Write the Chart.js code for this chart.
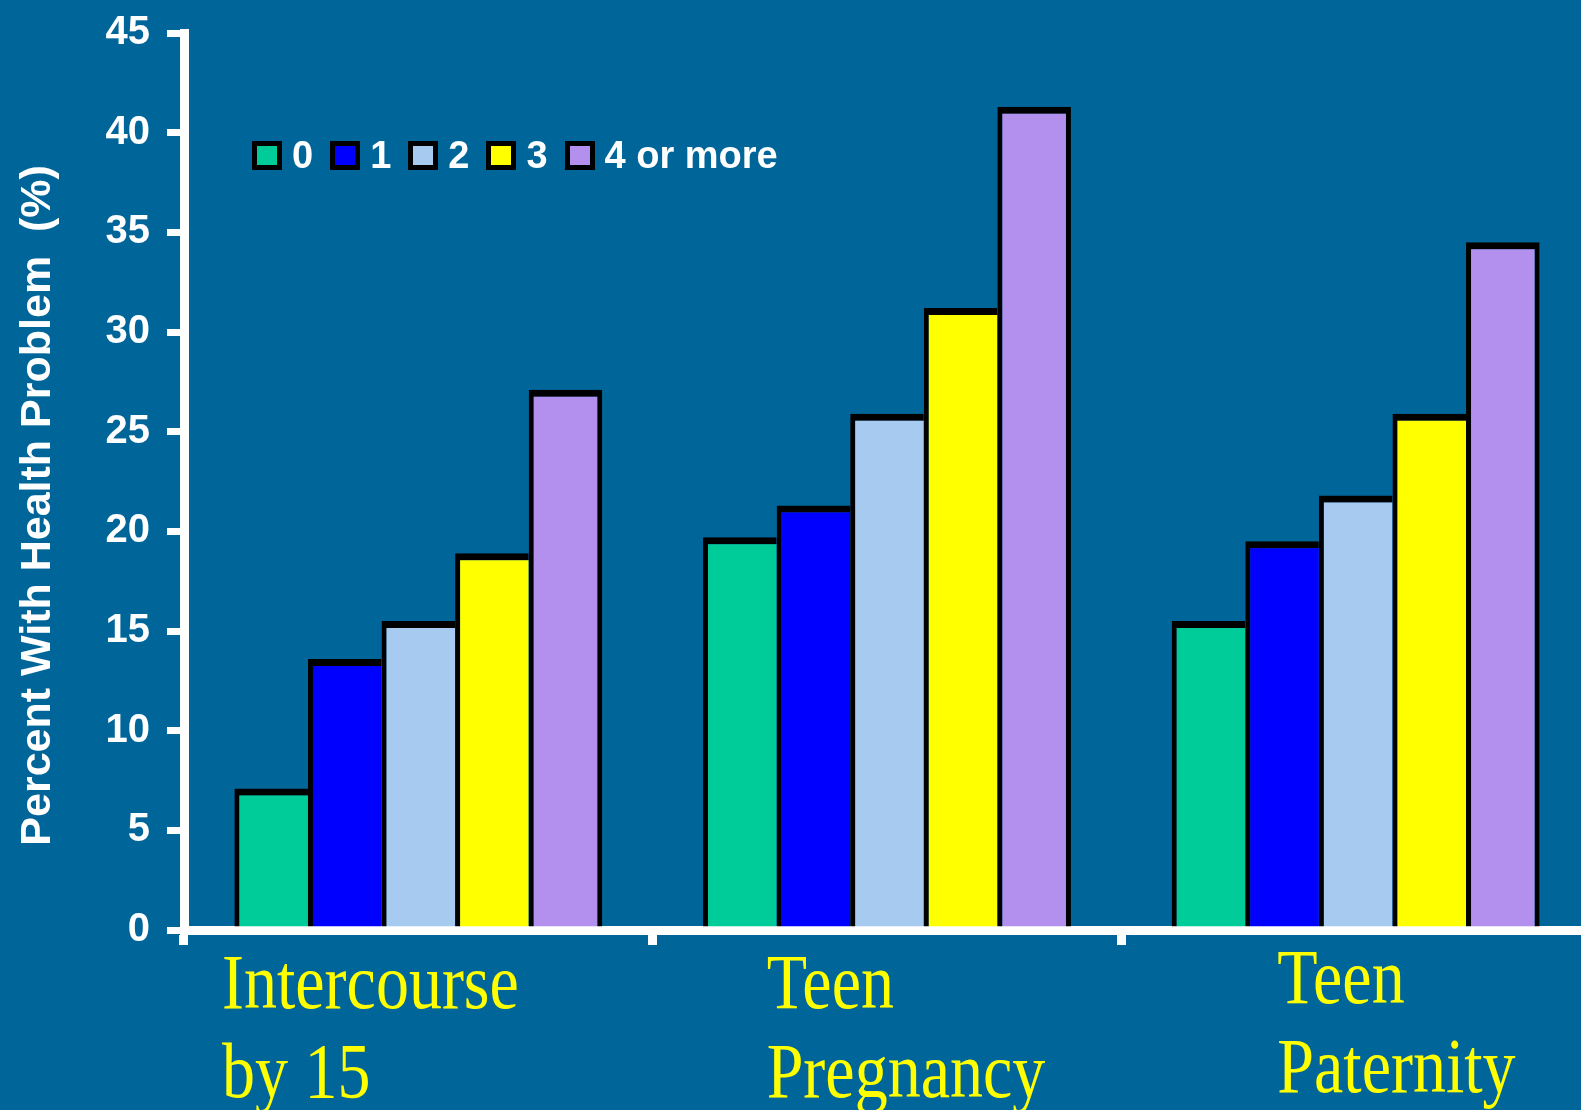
<!DOCTYPE html>
<html>
<head>
<meta charset="utf-8">
<script src="https://cdn.jsdelivr.net/npm/chart.js@4.4.1/dist/chart.umd.min.js"></script>
<style>
  html, body { margin: 0; padding: 0; background: #006699; overflow: hidden; }
  #wrap { position: relative; width: 1581px; height: 1110px; overflow: hidden; }
  #chart { position: absolute; left: 0; top: 0; }
  #legend {
    position: absolute; left: 252px; top: 134px;
    display: flex; align-items: center;
    font: bold 38px "Liberation Sans", Arial, sans-serif; color: #fff;
  }
  .item { display: flex; align-items: center; margin-right: 17px; }
  .swatch { width: 30px; height: 29px; box-sizing: border-box; border: 5px solid #000; margin-right: 10px; }
</style>
</head>
<body>
<div id="wrap">
  <canvas id="chart" width="1590" height="1110"></canvas>
  <div id="legend"></div>
</div>
<script>
  // categories (multi-line labels) and series
  const categories = [['Intercourse', 'by 15'], ['Teen', 'Pregnancy'], ['Teen', 'Paternity']];
  const seriesNames = ['0', '1', '2', '3', '4 or more'];
  const seriesColors = ['#00CC99', '#0000FF', '#A6CAF0', '#FFFF00', '#B38FEE'];

  const none = [7.1, 19.7, 15.5];
  const one = [13.6, 21.3, 19.5];
  const two = [15.5, 25.9, 21.8];
  const three = [18.9, 31.2, 25.9];
  const fourPlus = [27.1, 41.3, 34.5];
  const seriesValues = [none, one, two, three, fourPlus];

  const yMin = 0;
  const yMax = 45;
  const yStep = 5;

  const yTitle = 'Percent With Health Problem  (%)    ';

  function byId(id) {
    return document.getElementById(id);
  }

  function renderLegend() {
    byId('legend').innerHTML = seriesNames
      .map(
        (name, i) => `
          <div class="item">
            <span class="swatch" style="background:${seriesColors[i]}"></span>
            <span>${name}</span>
          </div>`
      )
      .join('');
  }

  // draws the yellow serif category labels under each group
  const categoryLabels = {
    id: 'categoryLabels',
    afterDraw(chart, args, opts) {
      const scale = chart.scales.x;
      const ctx = chart.ctx;
      const half = (scale.getPixelForValue(1) - scale.getPixelForValue(0)) / 2;
      ctx.save();
      ctx.fillStyle = opts.color;
      ctx.font = opts.font;
      ctx.textAlign = 'left';
      ctx.textBaseline = 'alphabetic';
      categories.forEach((lines, i) => {
        const left = scale.getPixelForValue(i) - half + opts.indent[i];
        lines.forEach((line, j) => {
          ctx.save();
          ctx.translate(left, scale.top + opts.firstBaseline[i] + j * opts.lineGap);
          ctx.scale(1, opts.stretch);
          ctx.fillText(line, 0, 0);
          ctx.restore();
        });
      });
      ctx.restore();
    },
  };

  function renderChart() {
    const lastIndex = seriesNames.length - 1;
    new Chart(byId('chart'), {
      type: 'bar',
      data: {
        labels: categories.map((c) => c.join(' ')),
        datasets: seriesNames.map((name, i) => ({
          label: name,
          data: seriesValues[i],
          backgroundColor: seriesColors[i],
          borderColor: '#000',
          borderWidth: { top: 7, left: 5, right: i === lastIndex ? 5 : 0, bottom: 0 },
          borderSkipped: false,
          categoryPercentage: 0.785,
          barPercentage: 1,
        })),
      },
      options: {
        responsive: false,
        animation: false,
        layout: { padding: { top: 33, left: 0, right: 0, bottom: 0 } },
        plugins: {
          legend: { display: false },
          tooltip: { enabled: false },
          categoryLabels: {
            color: '#FFFF00',
            font: '66px "Liberation Serif", "Times New Roman", serif',
            indent: [38, 114, 156],
            firstBaseline: [78, 78, 73],
            lineGap: 89,
            stretch: 1.2,
          },
        },
        scales: {
          x: {
            type: 'category',
            offset: true,
            afterFit: (scale) => {
              scale.height = 180;
            },
            border: { display: true, color: '#fff', width: 9 },
            grid: {
              offset: true,
              drawOnChartArea: false,
              drawTicks: true,
              tickLength: 15,
              color: '#fff',
              lineWidth: 9,
            },
            ticks: { display: false },
          },
          y: {
            min: yMin,
            max: yMax,
            afterFit: (scale) => {
              scale.width = 184;
              scale.paddingTop = 0;
              scale.paddingBottom = 0;
            },
            border: { display: true, color: '#fff', width: 9 },
            grid: {
              drawOnChartArea: false,
              drawTicks: true,
              tickLength: 17,
              color: '#fff',
              lineWidth: 7,
            },
            ticks: {
              stepSize: yStep,
              color: '#fff',
              padding: 17,
              font: { family: '"Liberation Sans", Arial, sans-serif', size: 40, weight: 'bold' },
            },
            title: {
              display: true,
              text: yTitle,
              color: '#fff',
              padding: { top: 12, bottom: 0 },
              font: { family: '"Liberation Sans", Arial, sans-serif', size: 43, weight: 'bold', lineHeight: 1.2 },
            },
          },
        },
      },
      plugins: [categoryLabels],
    });
  }

  renderLegend();
  renderChart();
</script>
</body>
</html>
